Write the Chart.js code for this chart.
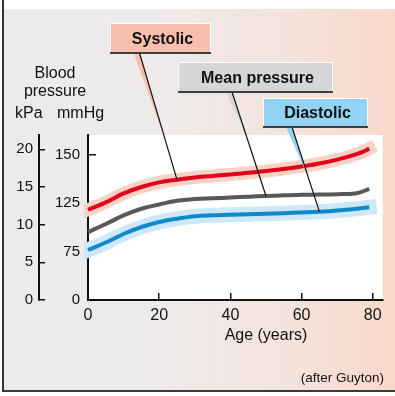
<!DOCTYPE html>
<html>
<head>
<meta charset="utf-8">
<title>Blood pressure and age</title>
<script src="https://cdn.jsdelivr.net/npm/chart.js@4"></script>
<style>
body{margin:0;background:#fff}
#wrap{position:relative;width:395px;height:396px;overflow:hidden}
#panel{position:absolute;left:2px;top:0;width:393px;height:392px;box-sizing:border-box;
  border-left:2px solid #333;border-bottom:2px solid #3a3a3a;
  background:linear-gradient(#fff 0,#fff 9px,transparent 9px),
    linear-gradient(to right,#ebebed 0%,#eeeaea 40%,#f4e3dd 72%,#f9d8ca 100%)}
#grafica{position:absolute;left:0;top:0}
</style>
</head>
<body>
<div id="wrap"><div id="panel"></div><canvas id="grafica" width="395" height="396"></canvas></div>
<script>
//DATA
const ages=[0,5,10,15,20,25,30,35,40,45,50,55,60,65,70,75,77,79]
const systolic=[118,125.3,129.9,133.2,135.6,137,138.1,138.9,139.6,140.5,141.4,142.5,143.8,145.3,147.3,149.9,151.2,153]
const meanPressure=[95,103.3,112.1,119,123.4,126.1,127,127.4,127.8,128.2,128.6,128.9,129.2,129.3,129.5,129.9,130.8,132.2]
const diastolic=[76.5,84.2,93,100.2,105.4,108.8,111.3,112.3,112.8,113.4,113.9,114.5,115.2,116,117.2,118.8,119.7,120.5]

const ageTicks=[0,20,40,60,80]
const mmHgTicks=[0,75,125,150]
const kPaTicks=[0,5,10,15,20]

//series names and the age where each leader line meets its curve
const seriesNames=["Systolic","Mean pressure","Diastolic"]
const leaderAges=[25,50,65]

//STYLE
const ink="#111"
const red="#e2001a", grey="#58585a", blue="#1089c9"
const pinkHalo="#f9d2c3", blueHalo="#cde8f8"
const boxes=[
    {x:110,y:23,w:101,h:30,fill:"#f8bfae",from:[139.5,53],tip:0.66},
    {x:178,y:62,w:155,h:30,fill:"#d5d6d8",from:[232,92],tip:0.41},
    {x:263,y:98,w:105,h:29,fill:"#92d3f3",from:[292,127],tip:0.6}
]
const sans='"Liberation Sans", Arial, Helvetica, sans-serif'
Chart.defaults.font.family=sans
Chart.defaults.color=ink

//mmHg axis: the labelled ticks are evenly spaced, linear between them
class StepScale extends Chart.LinearScale {
    static id="step"
    static defaults=Chart.LinearScale.defaults
    stepOf(v){
        const s=mmHgTicks
        let i=0
        while(i<s.length-2 && v>s[i+1]) i++
        return i+(v-s[i])/(s[i+1]-s[i])
    }
    getPixelForValue(v){
        return this.getPixelForDecimal(this.stepOf(v)/this.stepOf(this.max))
    }
    getValueForPixel(p){
        const s=mmHgTicks
        const d=this.getDecimalForPixel(p)*this.stepOf(this.max)
        const i=Math.max(0,Math.min(Math.floor(d),s.length-2))
        return s[i]+(d-i)*(s[i+1]-s[i])
    }
}
Chart.register(StepScale)

function points(values){
    return ages.map((a,i)=>({x:a,y:values[i]}))
}

function line(label,values,color,width,order){
    return {
        label,
        data:points(values),
        borderColor:color,
        borderWidth:width,
        pointRadius:0,
        tension:0.4,
        borderCapStyle:order?"square":"butt",
        clip:{left:4,top:0,right:14,bottom:0},
        order
    }
}

function ticksFrom(list){
    return scale=>{scale.ticks=list.map(v=>({value:v}))}
}

function axis(tickLength){
    return {
        border:{color:ink,width:2},
        grid:{drawOnChartArea:false,tickLength,color:ink,lineWidth:1.5}
    }
}

//drawing the panel extras: white plot area, leaders, boxes, texts
const decor={
    id:"decor",
    beforeDraw(chart){
        const {ctx,chartArea:a}=chart
        ctx.save()
        ctx.fillStyle="#fff"
        ctx.fillRect(a.left,a.top,a.right-a.left,a.bottom-a.top)
        ctx.restore()
    },
    afterDatasetsDraw(chart){
        const ctx=chart.ctx
        ctx.save()
        boxes.forEach((b,i)=>{
            const meta=chart.getDatasetMeta(i)
            const pt=meta.data[ages.indexOf(leaderAges[i])]
            const [fx,fy]=b.from
            const tx=fx+(pt.x-fx)*b.tip, ty=fy+(pt.y-fy)*b.tip
            //coloured wedge beside the leader
            ctx.fillStyle=b.fill
            ctx.beginPath()
            ctx.moveTo(fx-6,fy)
            ctx.lineTo(fx,fy)
            ctx.lineTo(tx,ty)
            ctx.closePath()
            ctx.fill()
            ctx.strokeStyle=ink
            ctx.lineWidth=1.2
            ctx.beginPath()
            ctx.moveTo(fx,fy)
            ctx.lineTo(pt.x,pt.y)
            ctx.stroke()
            //label box
            ctx.fillStyle=b.fill
            ctx.fillRect(b.x,b.y,b.w,b.h)
            ctx.strokeStyle="#fff"
            ctx.lineWidth=1
            ctx.strokeRect(b.x+0.5,b.y+0.5,b.w-1,b.h-1)
            ctx.fillStyle="#3d3d3d"
            ctx.fillRect(b.x,b.y+b.h-1,b.w,2)
            ctx.fillStyle=ink
            ctx.font="bold 16px "+sans
            ctx.textAlign="center"
            ctx.textBaseline="alphabetic"
            ctx.fillText(seriesNames[i],b.x+b.w/2+2,b.y+b.h/2+5.5)
        })
        ctx.fillStyle=ink
        ctx.font="16px "+sans
        ctx.textAlign="center"
        ctx.fillText("Blood",55,78)
        ctx.fillText("pressure",55,96)
        ctx.textAlign="left"
        ctx.fillText("kPa",15,118)
        ctx.fillText("mmHg",57,118)
        ctx.textAlign="center"
        ctx.fillText("Age (years)",chart.scales.x.getPixelForValue(50),339.5)
        ctx.font="13.5px "+sans
        ctx.textAlign="right"
        ctx.fillText("(after Guyton)",384,382)
        ctx.restore()
    }
}

//CHART
const grafica=document.querySelector("#grafica")

new Chart(grafica,{
    type:"line",
    data:{
        datasets:[
            line("Systolic",systolic,red,4,0),
            line("Mean pressure",meanPressure,grey,4,0),
            line("Diastolic",diastolic,blue,4,0),
            line("Systolic band",systolic,pinkHalo,13,1),
            line("Diastolic band",diastolic,blueHalo,15,1)
        ]
    },
    options:{
        responsive:false,
        devicePixelRatio:1,
        animation:false,
        layout:{padding:{left:0,top:135,right:10,bottom:0}},
        plugins:{legend:{display:false},tooltip:{enabled:false}},
        scales:{
            x:{
                type:"linear",min:0,max:82.8,
                ...axis(-7),
                afterBuildTicks:ticksFrom(ageTicks),
                afterFit:s=>{s.height=96},
                ticks:{padding:13,font:{size:16},maxRotation:0,autoSkip:false}
            },
            y:{
                type:"step",position:"left",min:0,max:160,weight:0,
                ...axis(-8),
                afterBuildTicks:ticksFrom(mmHgTicks),
                afterFit:s=>{s.width=49},
                ticks:{padding:16,font:{size:15},autoSkip:false}
            },
            kpa:{
                type:"linear",position:"left",min:0,max:21.9,weight:1,
                ...axis(-6),
                afterBuildTicks:ticksFrom(kPaTicks),
                afterFit:s=>{s.width=39},
                ticks:{padding:12,font:{size:15},autoSkip:false}
            }
        }
    },
    plugins:[decor]
})
</script>
</body>
</html>
